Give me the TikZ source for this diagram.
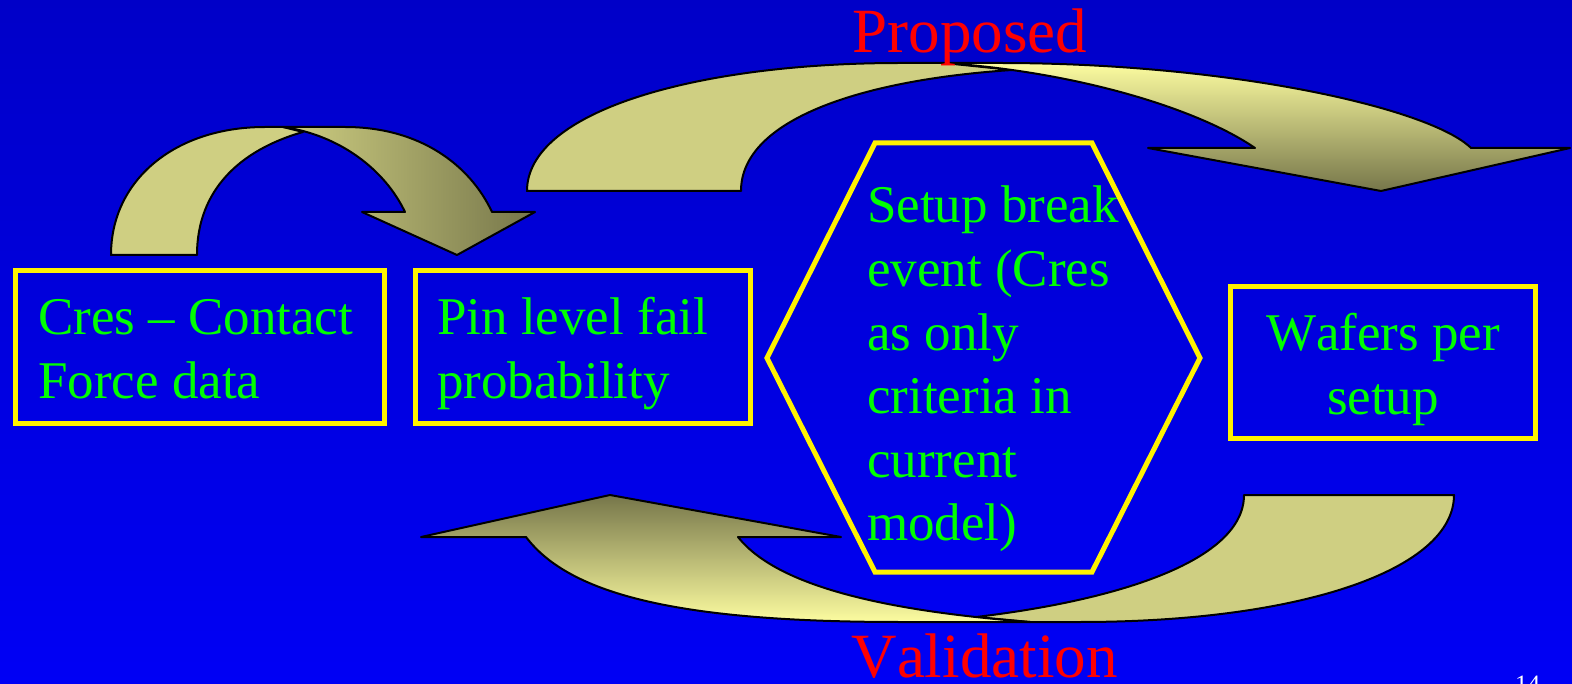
\documentclass[tikz,border=0pt]{standalone}
\usepackage{fontspec}
\setmainfont{Liberation Serif}[Kerning=Off]
\definecolor{khaki}{RGB}{207,207,130}
\definecolor{olivedark}{RGB}{118,118,74}
\definecolor{paleyel}{RGB}{252,252,160}
\definecolor{midtop}{RGB}{226,226,144}
\definecolor{midbot}{RGB}{214,214,136}
\definecolor{bgtop}{RGB}{0,0,200}
\definecolor{bgbot}{RGB}{0,0,245}
\tikzset{
  outline/.style={draw=black, line width=2, line join=round},
  backband/.style={outline, fill=khaki},
  boxnode/.style={draw=yellow, line width=5, rectangle, inner sep=0},
  hexline/.style={draw=yellow, line width=5, line join=miter},
  greentext/.style={text=green, font=\fontsize{53}{63.6}\selectfont, inner sep=0},
  redtext/.style={text=red, font=\fontsize{63}{70}\selectfont, inner sep=0},
  pagenum/.style={text=white, font=\fontsize{25}{30}\selectfont, inner sep=0},
}
\begin{document}
\begin{tikzpicture}[x=1pt, y=-1pt]
\useasboundingbox (0,0) rectangle (1572,684);
\shade[top color=bgtop, bottom color=bgbot] (0,0) rectangle (1572,684);

% small curved arrow (top left)
\fill[backband] (111,255) .. controls (111,180) and (175,127) .. (265,127) -- (283,127) -- (303,132)
  .. controls (240,150) and (197,190) .. (197,255) -- cycle;
\shade[outline, left color=khaki, right color=olivedark]
  (283,127) -- (345,127) .. controls (420,127) and (470,165) .. (492,212) -- (535,212) -- (457,255)
  -- (362,212) -- (405,212) .. controls (385,170) and (340,135) .. (283,127) -- cycle;

% big curved arrow (top)
\fill[backband] (527,191) .. controls (527,112) and (694,63) .. (900,63) -- (944,63) -- (1012,70)
  .. controls (860,80) and (741,120) .. (741,191) -- cycle;
\shade[outline, top color=paleyel, middle color=midtop, bottom color=olivedark]
  (944,63) -- (1000,63) .. controls (1230,63) and (1430,108) .. (1471,148) -- (1570,148) -- (1381,191)
  -- (1148,148) -- (1255,148) .. controls (1200,110) and (1080,72) .. (944,63) -- cycle;

% bottom curved arrow
\fill[backband] (1244,495) -- (1454,495) .. controls (1454,570) and (1300,622) .. (1080,622) -- (1030,622)
  -- (976,617) .. controls (1120,600) and (1244,560) .. (1244,495) -- cycle;
\shade[outline, top color=olivedark, middle color=midbot, bottom color=paleyel]
  (1030,622) -- (900,622) .. controls (680,622) and (570,595) .. (526,537) -- (421,537) -- (610,495)
  -- (841,537) -- (738,537) .. controls (780,590) and (900,612) .. (1030,622) -- cycle;

% boxes
\node[boxnode, minimum width=369, minimum height=153] (box1) at (200,347) {};
\node[boxnode, minimum width=335, minimum height=153] (box2) at (583,347) {};
\node[boxnode, minimum width=305, minimum height=152] (box4) at (1383,362.5) {};

% hexagon
\draw[hexline] (875,143) -- (1092,143) -- (1200,358) -- (1092,572) -- (875,572) -- (767,358) -- cycle;

% texts
\node[greentext, anchor=base west] (t1) at (38,335) {\vtop{\hbox{Cres – Contact}\hbox{Force data}}};
\node[greentext, anchor=base west] (t2) at (437,335) {\vtop{\hbox{Pin level fail}\hbox{probability}}};
\node[greentext, anchor=base west] (t3) at (867,223) {\vtop{\hbox{Setup break}\hbox{event (Cres}\hbox{as only}\hbox{criteria in}\hbox{current}\hbox{model)}}};
\node[greentext, anchor=base] (t4) at (1383,351) {\vtop{\hbox to 0pt{\hss Wafers per\hss}\hbox to 0pt{\hss setup\hss}}};

\node[redtext, anchor=base] (proposed) at (970,53) {Proposed};
\node[redtext, anchor=base] (validation) at (984.5,677) {Validation};
\node[pagenum, anchor=base west] (pnum) at (1515,692) {14};
\end{tikzpicture}
\end{document}
